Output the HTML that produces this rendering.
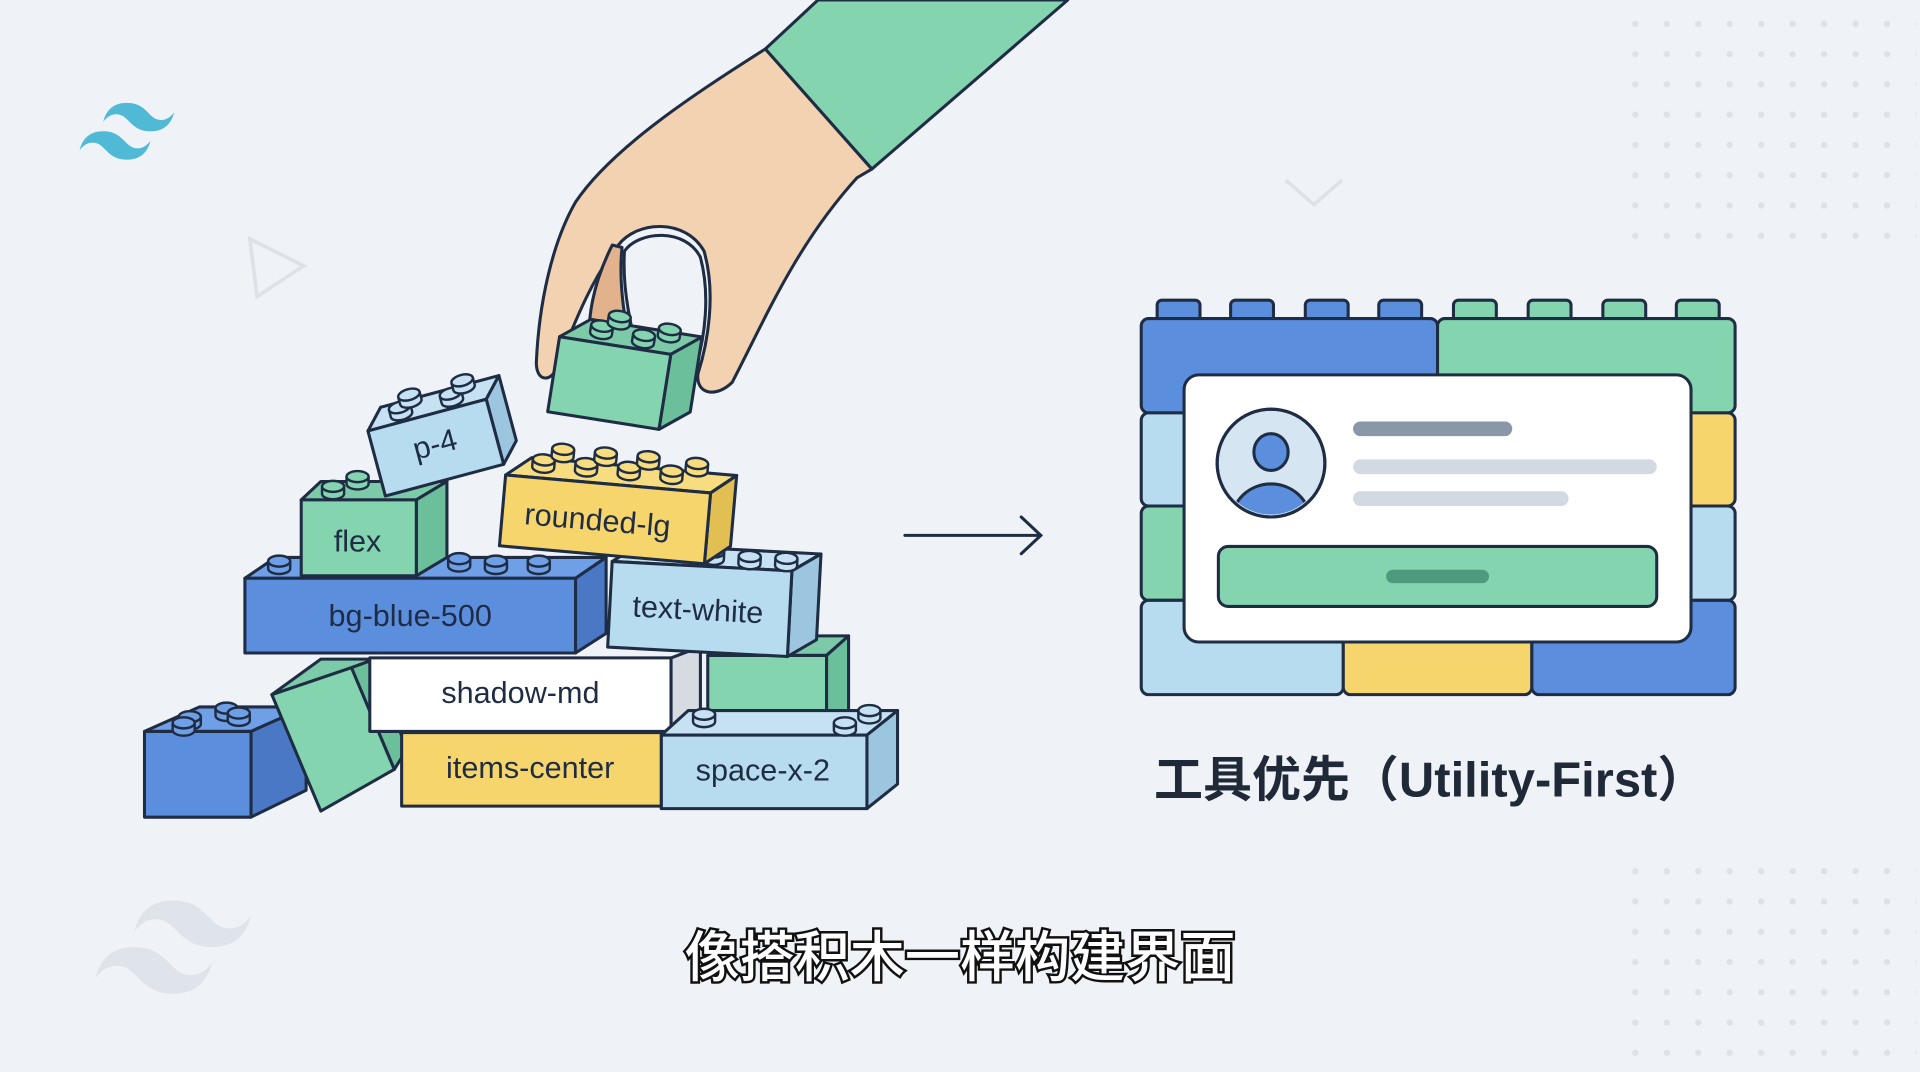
<!DOCTYPE html>
<html><head><meta charset="utf-8"><style>
html,body{margin:0;padding:0;background:#eff3f7;}
svg{display:block}
.t{font-family:"Liberation Sans","DejaVu Sans",sans-serif;fill:#1f2d44;font-size:25px;text-anchor:middle}
</style></head><body>
<svg width="1920" height="1072" viewBox="0 0 1568 875" preserveAspectRatio="none" xmlns="http://www.w3.org/2000/svg">
<defs>
<pattern id="dots" x="1333" y="17" width="25.7" height="24.7" patternUnits="userSpaceOnUse">
<circle cx="2.5" cy="2.5" r="2.6" fill="#dde2e8"/></pattern>
<g id="stud"><path d="M-9,0 L-9,6 A9,4.5 0 0 0 9,6 L9,0" fill="inherit" stroke="#1f2d44" stroke-width="2"/><ellipse cx="0" cy="0" rx="9" ry="4.5" stroke="#1f2d44" stroke-width="2"/></g>
</defs>
<rect width="1568" height="875" fill="#eff3f7"/>
<rect x="1330" y="14" width="235" height="185" fill="url(#dots)"/>
<rect x="1330" y="706" width="235" height="160" fill="url(#dots)"/>
<path transform="translate(65,84) scale(1.43)" fill="#4fb9d6" d="M27 0c-7.2 0-11.7 3.6-13.5 10.8 2.7-3.6 5.85-4.95 9.450-4.05 2.054.513 3.522 2.004 5.147 3.653C30.744 13.09 33.808 16.2 40.5 16.2c7.2 0 11.7-3.6 13.5-10.8-2.7 3.6-5.85 4.95-9.45 4.05-2.054-.513-3.522-2.004-5.147-3.653C36.756 3.11 33.692 0 27 0zM13.5 16.2C6.3 16.2 1.8 19.8 0 27c2.7-3.6 5.85-4.95 9.45-4.05 2.054.514 3.522 2.004 5.147 3.653C17.244 29.29 20.308 32.4 27 32.4c7.2 0 11.7-3.6 13.5-10.8-2.7 3.6-5.85 4.95-9.45 4.05-2.054-.513-3.522-2.004-5.147-3.653C23.256 19.31 20.192 16.2 13.5 16.2z"/>
<path transform="translate(78,735) scale(2.35)" fill="#dfe4ea" d="M27 0c-7.2 0-11.7 3.6-13.5 10.8 2.7-3.6 5.85-4.950 9.45-4.05 2.054.513 3.522 2.004 5.147 3.653C30.744 13.09 33.808 16.2 40.5 16.2c7.2 0 11.7-3.6 13.5-10.8-2.7 3.6-5.85 4.95-9.45 4.05-2.054-.513-3.522-2.004-5.147-3.653C36.756 3.11 33.692 0 27 0zM13.5 16.2C6.3 16.2 1.8 19.8 0 27c2.7-3.6 5.85-4.95 9.45-4.05 2.054.514 3.522 2.004 5.147 3.653C17.244 29.29 20.308 32.4 27 32.4c7.2 0 11.7-3.6 13.5-10.8-2.7 3.6-5.85 4.95-9.45 4.05-2.054-.513-3.522-2.004-5.147-3.653C23.256 19.31 20.192 16.2 13.5 16.2z"/>
<polygon points="204,195 248,217 210,242" fill="none" stroke="#dde2e8" stroke-width="3"/>
<polyline points="1050,147 1073,167 1096,147" fill="none" stroke="#dde2e8" stroke-width="3"/>

<g stroke="#1f2d44" stroke-width="2.5" stroke-linejoin="round">
<polygon points="118,597 163,577 250,577 205,597" fill="#6f9fe6"/>
<polygon points="205,597 250,577 250,645 205,667" fill="#4a78c4"/>
<rect x="118" y="597" width="87" height="70" fill="#5b8fde"/>
<g fill="#6f9fe6"><use href="#stud" x="155" y="585"/><use href="#stud" x="185" y="578"/><use href="#stud" x="150" y="590"/><use href="#stud" x="195" y="582"/></g>
<polygon points="222,567 262,538 306,538 287,545" fill="#7dcaa8"/>
<polygon points="287,545 306,538 332,612 322,628" fill="#6bbf9b"/>
<polygon points="222,567 287,545 322,628 262,662" fill="#84d4b0"/>
<polygon points="548,537 572,528 572,590 548,597" fill="#d6dbe2"/>
<rect x="302" y="537" width="246" height="60" fill="#ffffff"/>
<polygon points="578,535 596,519 693,519 675,535" fill="#7dcaa8"/>
<polygon points="675,535 693,519 693,580 675,597" fill="#6bbf9b"/>
<rect x="578" y="535" width="97" height="62" fill="#84d4b0"/>
<polygon points="540,600 562,580 733,580 708,600" fill="#c6e2f2"/>
<polygon points="708,600 733,580 733,640 708,660" fill="#9cc5df"/>
<rect x="540" y="600" width="168" height="60" fill="#b8dcef"/>
<g fill="#c6e2f2"><use href="#stud" x="575" y="583"/><use href="#stud" x="710" y="580"/><use href="#stud" x="690" y="590"/></g>
<rect x="328" y="598" width="212" height="60" fill="#f6d56d"/>
<polygon points="200,472 225,455 495,455 470,472" fill="#6f9fe6"/>
<polygon points="470,472 495,455 495,517 470,533" fill="#4a78c4"/>
<rect x="200" y="472" width="270" height="61" fill="#5b8fde"/>
<g fill="#6f9fe6"><use href="#stud" x="228" y="458"/><use href="#stud" x="375" y="456"/><use href="#stud" x="405" y="458"/><use href="#stud" x="440" y="458"/></g>
<g transform="rotate(3,570,497)">
<polygon points="498,462 520,447 668,447 645,462" fill="#c6e2f2"/>
<polygon points="645,462 668,447 668,517 645,532" fill="#9cc5df"/>
<rect x="498" y="462" width="147" height="70" fill="#b8dcef"/>
<g fill="#c6e2f2"><use href="#stud" x="580" y="450"/><use href="#stud" x="610" y="452"/><use href="#stud" x="640" y="452"/></g>
</g>
<polygon points="246,408 262,393 365,393 340,408" fill="#7dcaa8"/>
<polygon points="340,408 365,393 365,455 340,470" fill="#6bbf9b"/>
<rect x="246" y="408" width="94" height="62" fill="#84d4b0"/>
<g fill="#84d4b0"><use href="#stud" x="272" y="397"/><use href="#stud" x="292" y="389"/></g>
<g transform="rotate(5,495,425)">
<polygon points="410,395 430,379 598,379 578,395" fill="#f8dd80"/>
<polygon points="578,395 598,379 598,437 578,453" fill="#e2bf52"/>
<rect x="410" y="395" width="168" height="58" fill="#f6d56d"/>
<g fill="#f8dd80"><use href="#stud" x="440" y="380"/><use href="#stud" x="475" y="380"/><use href="#stud" x="510" y="380"/><use href="#stud" x="545" y="380"/><use href="#stud" x="455" y="370"/><use href="#stud" x="490" y="370"/><use href="#stud" x="525" y="370"/><use href="#stud" x="565" y="372"/></g>
</g>
<g transform="rotate(-15,355,362)">
<polygon points="305,338 320,322 420,322 405,338" fill="#c6e2f2"/>
<polygon points="405,338 420,322 420,377 405,393" fill="#9cc5df"/>
<rect x="305" y="338" width="100" height="55" fill="#b8dcef"/>
<g fill="#c6e2f2"><use href="#stud" x="335" y="326"/><use href="#stud" x="378" y="326"/><use href="#stud" x="345" y="318"/><use href="#stud" x="390" y="318"/></g>
</g>
<polygon points="625,40 668,0 872,0 712,138" fill="#84d4b0"/>
<path d="M625,40 C570,75 500,120 470,165 C450,200 440,250 438,296 C438,312 450,312 455,300 C470,260 485,225 505,200 C520,180 560,178 575,205 C585,240 578,280 570,305 C568,322 585,325 598,312 C625,260 650,200 700,145 L712,138 Z" fill="#f3d2b1"/>
<path d="M510,205 C522,188 560,186 572,210 C580,240 576,275 568,300 L525,300 C515,270 508,235 510,205 Z" fill="#eff3f7" stroke="#1f2d44"/>
<path d="M500,200 C485,230 478,260 482,295 L520,298 C510,270 505,230 508,202 Z" fill="#e2b28c"/>
<g transform="rotate(9,500,310)">
<polygon points="452,282 475,264 567,264 544,282" fill="#7dcaa8"/>
<polygon points="544,282 567,264 567,326 544,344" fill="#6bbf9b"/>
<rect x="452" y="282" width="92" height="62" fill="#84d4b0"/>
<g fill="#84d4b0"><use href="#stud" x="485" y="268"/><use href="#stud" x="520" y="270"/><use href="#stud" x="498" y="258"/><use href="#stud" x="540" y="262"/></g>
</g>
</g>
<text class="t" x="355" y="371" transform="rotate(-15,355,362)">p-4</text>
<text class="t" x="292" y="450">flex</text>
<text class="t" x="488" y="433" transform="rotate(5,488,425)">rounded-lg</text>
<text class="t" x="335" y="511">bg-blue-500</text>
<text class="t" x="570" y="506" transform="rotate(3,570,497)">text-white</text>
<text class="t" x="425" y="574">shadow-md</text>
<text class="t" x="433" y="635">items-center</text>
<text class="t" x="623" y="637">space-x-2</text>
<g stroke="#1f2d44" stroke-width="2.5" fill="none" stroke-linecap="round"><line x1="739" y1="437" x2="850" y2="437"/><polyline points="834,422 850,437 834,452"/></g>

<g stroke="#1f2d44" stroke-width="2.5">
<g fill="#5b8fde"><rect x="945" y="245" width="35" height="22" rx="4"/><rect x="1005" y="245" width="35" height="22" rx="4"/><rect x="1066" y="245" width="35" height="22" rx="4"/><rect x="1126" y="245" width="35" height="22" rx="4"/></g>
<g fill="#84d4b0"><rect x="1187" y="245" width="35" height="22" rx="4"/><rect x="1248" y="245" width="35" height="22" rx="4"/><rect x="1309" y="245" width="35" height="22" rx="4"/><rect x="1369" y="245" width="35" height="22" rx="4"/></g>
<rect x="932" y="260" width="242" height="77" rx="6" fill="#5b8fde"/>
<rect x="1174" y="260" width="243" height="77" rx="6" fill="#84d4b0"/>
<rect x="932" y="337" width="242" height="76" rx="6" fill="#b8dcef"/>
<rect x="1174" y="337" width="243" height="76" rx="6" fill="#f6d56d"/>
<rect x="932" y="413" width="242" height="77" rx="6" fill="#84d4b0"/>
<rect x="1174" y="413" width="243" height="77" rx="6" fill="#b8dcef"/>
<rect x="932" y="490" width="165" height="77" rx="6" fill="#b8dcef"/>
<rect x="1097" y="490" width="154" height="77" rx="6" fill="#f6d56d"/>
<rect x="1251" y="490" width="166" height="77" rx="6" fill="#5b8fde"/>
<rect x="967" y="306" width="414" height="218" rx="12" fill="#ffffff"/>
<circle cx="1038" cy="378" r="44" fill="#d5e6f2"/>
</g>
<clipPath id="av"><circle cx="1038" cy="378" r="42"/></clipPath>
<g clip-path="url(#av)" stroke="#1f2d44" stroke-width="2.5" fill="#5b8fde"><ellipse cx="1038" cy="369" rx="14" ry="15"/><ellipse cx="1038" cy="425" rx="32" ry="30"/></g>
<circle cx="1038" cy="378" r="44" fill="none" stroke="#1f2d44" stroke-width="2.5"/>
<rect x="1105" y="344" width="130" height="12" rx="6" fill="#8a97a8"/>
<rect x="1105" y="375" width="248" height="12" rx="6" fill="#d2d9e2"/>
<rect x="1105" y="401" width="176" height="12" rx="6" fill="#d2d9e2"/>
<rect x="995" y="446" width="358" height="49" rx="8" fill="#84d4b0" stroke="#1f2d44" stroke-width="2.5"/>
<rect x="1132" y="465" width="84" height="11" rx="5.5" fill="#4d9a7e"/>
<text x="1168" y="650" style="font-family:'Liberation Sans','Noto Sans CJK SC',sans-serif;font-size:40px;font-weight:bold;fill:#1f2937;text-anchor:middle">工具优先（Utility-First）</text>
<text x="784" y="797" style="font-family:'Liberation Sans','Noto Sans CJK SC',sans-serif;font-size:45px;font-weight:500;fill:#ffffff;stroke:#111;stroke-width:4;paint-order:stroke;text-anchor:middle">像搭积木一样构建界面</text>
</svg>
</body></html>
